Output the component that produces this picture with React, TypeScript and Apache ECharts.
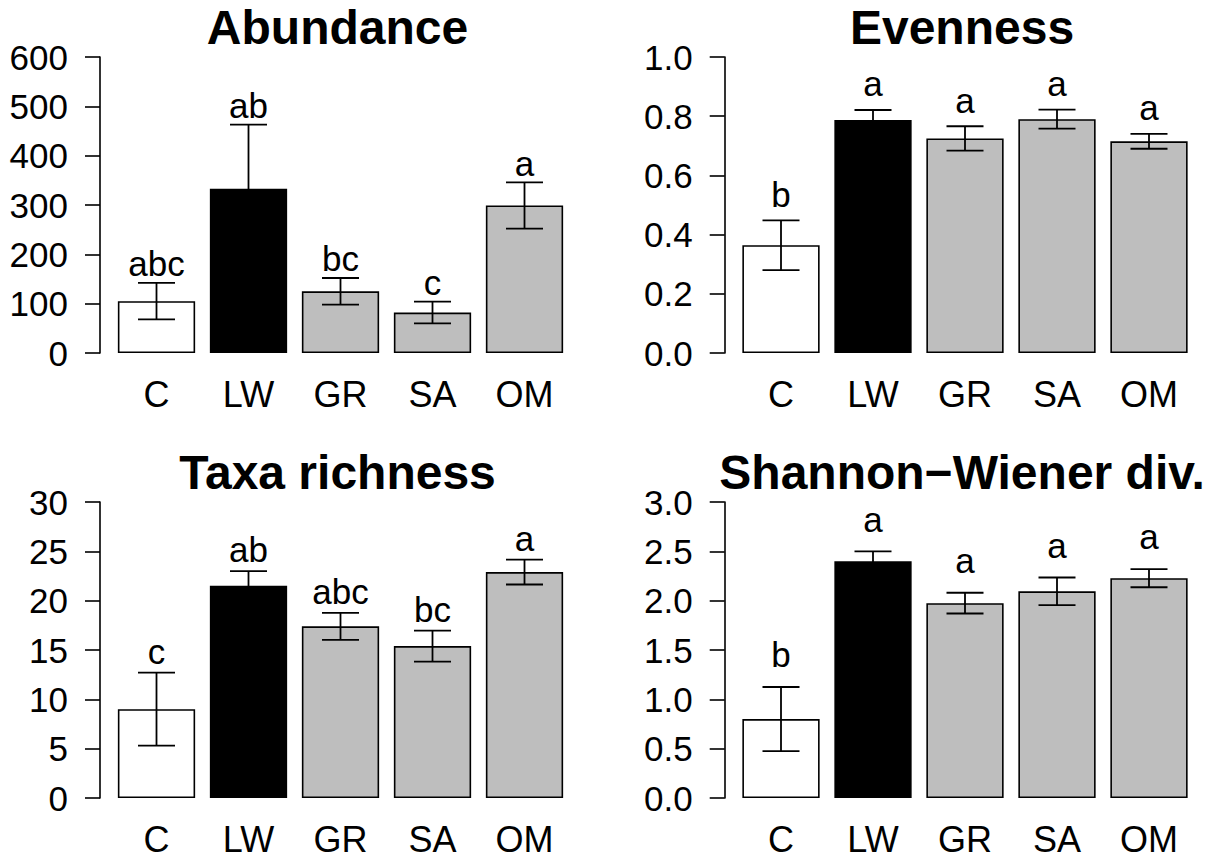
import React, { useEffect, useRef } from "react";
import * as echarts from "echarts";

const categories = ["C", "LW", "GR", "SA", "OM"];
const barFills = ["#ffffff", "#000000", "#bebebe", "#bebebe", "#bebebe"];

const abundanceMean = [105, 333, 125, 82, 299];
const abundanceSE = [37, 130, 27, 22, 47];
const abundanceLetters = ["abc", "ab", "bc", "c", "a"];
const abundanceTicks = { min: 0, max: 600, interval: 100 };

const evennessMean = [0.364, 0.787, 0.725, 0.79, 0.715];
const evennessSE = [0.084, 0.034, 0.041, 0.032, 0.025];
const evennessLetters = ["b", "a", "a", "a", "a"];
const evennessTicks = { min: 0, max: 1, interval: 0.2 };

const richnessMean = [9.0, 21.5, 17.4, 15.4, 22.9];
const richnessSE = [3.7, 1.5, 1.37, 1.57, 1.26];
const richnessLetters = ["c", "ab", "abc", "bc", "a"];
const richnessTicks = { min: 0, max: 30, interval: 5 };

const shannonMean = [0.8, 2.4, 1.975, 2.095, 2.228];
const shannonSE = [0.325, 0.1, 0.105, 0.14, 0.092];
const shannonLetters = ["b", "a", "a", "a", "a"];
const shannonTicks = { min: 0, max: 3, interval: 0.5 };

const titles = ["Abundance", "Evenness", "Taxa richness", "Shannon\u2212Wiener div."];

const FONT = "Liberation Sans, Arial, Helvetica, sans-serif";
const TICK_FS = 35;
const CAT_FS = 36;
const LETTER_FS = 35;
const TITLE_FS = 48;

const panels = [
  { title: titles[0], mean: abundanceMean, se: abundanceSE, letters: abundanceLetters, ticks: abundanceTicks, decimals: 0, left: 110.5, top: 57, axisX: 100, gap: 7 },
  { title: titles[1], mean: evennessMean, se: evennessSE, letters: evennessLetters, ticks: evennessTicks, decimals: 1, left: 735, top: 57, axisX: 724.7, gap: 14 },
  { title: titles[2], mean: richnessMean, se: richnessSE, letters: richnessLetters, ticks: richnessTicks, decimals: 0, left: 110.5, top: 502, axisX: 100, gap: 9 },
  { title: titles[3], mean: shannonMean, se: shannonSE, letters: shannonLetters, ticks: shannonTicks, decimals: 1, left: 735, top: 502, axisX: 724.7, gap: 20 },
];

const GRID_W = 460;
const GRID_H = 296;

export default function App() {
  const ref = useRef<HTMLDivElement>(null);
  useEffect(() => {
    if (!ref.current) return;
    const chart = echarts.init(ref.current, null, { renderer: "svg" });
    const grid: any[] = [];
    const xAxis: any[] = [];
    const yAxis: any[] = [];
    const series: any[] = [];
    const graphic: any[] = [];
    panels.forEach((p, k) => {
      grid.push({ left: p.left, top: p.top, width: GRID_W, height: GRID_H, containLabel: false });
      graphic.push({
        type: "text",
        x: p.left + GRID_W / 2 - 3,
        y: p.top - 30,
        style: {
          text: p.title,
          fontFamily: FONT,
          fontWeight: "bold",
          fontSize: TITLE_FS,
          fill: "#000",
          align: "center",
          verticalAlign: "middle",
        },
      });
      xAxis.push({
        type: "category",
        gridIndex: k,
        data: categories,
        axisLine: { show: false },
        axisTick: { show: false },
        axisLabel: { fontFamily: FONT, fontSize: CAT_FS, color: "#000", margin: 23 },
      });
      yAxis.push({
        type: "value",
        gridIndex: k,
        min: p.ticks.min,
        max: p.ticks.max,
        interval: p.ticks.interval,
        offset: p.left - p.axisX,
        splitLine: { show: false },
        axisLine: { show: true, lineStyle: { color: "#000", width: 1.6 } },
        axisTick: { show: true, length: 15, lineStyle: { color: "#000", width: 1.6 } },
        axisLabel: {
          fontFamily: FONT,
          fontSize: TICK_FS,
          color: "#000",
          margin: 32,
          formatter: (v: number) => v.toFixed(p.decimals),
        },
      });
      series.push({
        type: "bar",
        xAxisIndex: k,
        yAxisIndex: k,
        barWidth: "84%",
        data: p.mean.map((v, i) => ({
          value: v,
          itemStyle: { color: barFills[i], borderColor: "#000", borderWidth: 1.6 },
        })),
      });
      const gap = p.gap;
      const letters = p.letters;
      series.push({
        type: "custom",
        xAxisIndex: k,
        yAxisIndex: k,
        z: 5,
        encode: { x: 0, y: 1 },
        data: p.mean.map((v, i) => [i, v, p.se[i]]),
        renderItem: (params: any, api: any) => {
          const i = api.value(0);
          const m = api.value(1);
          const e = api.value(2);
          const t = api.coord([i, m + e]);
          const b = api.coord([i, m - e]);
          const half = 18.5;
          const ls = { stroke: "#000", lineWidth: 1.8 };
          return {
            type: "group",
            children: [
              { type: "line", shape: { x1: t[0], y1: t[1], x2: b[0], y2: b[1] }, style: ls },
              { type: "line", shape: { x1: t[0] - half, y1: t[1], x2: t[0] + half, y2: t[1] }, style: ls },
              { type: "line", shape: { x1: b[0] - half, y1: b[1], x2: b[0] + half, y2: b[1] }, style: ls },
              {
                type: "text",
                x: t[0],
                y: t[1] - gap + 0.1535 * LETTER_FS,
                style: {
                  text: letters[i],
                  fontFamily: FONT,
                  fontSize: LETTER_FS,
                  fill: "#000",
                  align: "center",
                  verticalAlign: "bottom",
                },
              },
            ],
          };
        },
      });
    });
    chart.setOption({
      animation: false,
      backgroundColor: "#fff",
      grid,
      xAxis,
      yAxis,
      series,
      graphic,
    });
    return () => chart.dispose();
  }, []);
  return (
    <div
      ref={ref}
      style={{ position: "fixed", left: 0, top: 0, width: 1228, height: 863, background: "#fff" }}
    />
  );
}
